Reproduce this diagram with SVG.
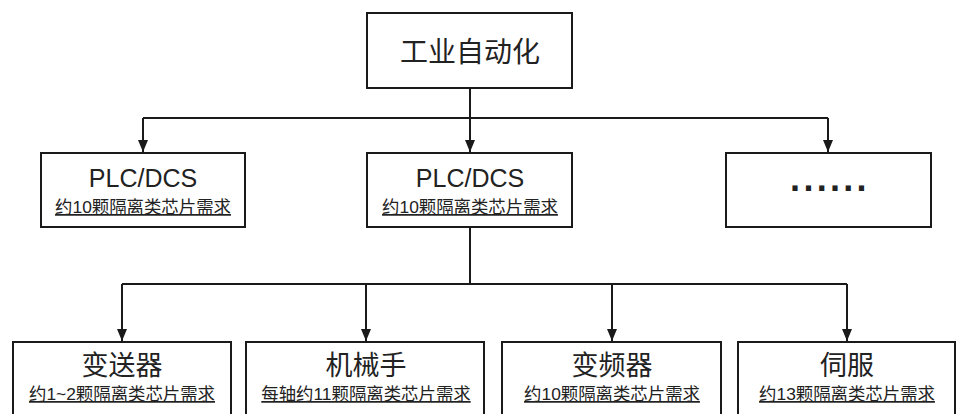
<svg xmlns="http://www.w3.org/2000/svg" width="962" height="414" viewBox="0 0 962 414">
<style>
.box{fill:#fff;stroke:#1a1a1a;stroke-width:2}
.conn{fill:none;stroke:#1a1a1a;stroke-width:2}
.t{font-family:"Liberation Sans","Noto Sans CJK SC",sans-serif;fill:#222;text-anchor:middle}
.title{font-size:27px}
.en{font-size:25px}
.sub{font-size:17.4px;text-decoration:underline;text-decoration-color:#666}
</style>
<defs>
<marker id="arr" markerUnits="userSpaceOnUse" markerWidth="12" markerHeight="12" viewBox="0 0 12 12" refX="12" refY="6" orient="auto">
<path d="M0,1 L12,6 L0,11 Z" fill="#1a1a1a"/>
</marker>
</defs>
<rect width="962" height="414" fill="#fff"/>
<g id="connectors">
<path class="conn" d="M470,88 V118 M143,118 H828"/>
<path class="conn" d="M143,118 V152" marker-end="url(#arr)"/>
<path class="conn" d="M470,118 V152" marker-end="url(#arr)"/>
<path class="conn" d="M828,118 V152" marker-end="url(#arr)"/>
<path class="conn" d="M470,227 V284 M122,284 H847"/>
<path class="conn" d="M122,284 V341" marker-end="url(#arr)"/>
<path class="conn" d="M366,284 V341" marker-end="url(#arr)"/>
<path class="conn" d="M612,284 V341" marker-end="url(#arr)"/>
<path class="conn" d="M847,284 V341" marker-end="url(#arr)"/>
</g>
<g id="root">
<rect class="box" x="367" y="13" width="205" height="75"/>
<text class="t title" x="470" y="62" style="font-size:28px">工业自动化</text>
</g>
<g id="plc1">
<rect class="box" x="41" y="153" width="204" height="74"/>
<text class="t en" x="143" y="187">PLC/DCS</text>
<text class="t sub" x="143" y="213">约10颗隔离类芯片需求</text>
</g>
<g id="plc2">
<rect class="box" x="367" y="153" width="205" height="74"/>
<text class="t en" x="470" y="187">PLC/DCS</text>
<text class="t sub" x="470" y="213">约10颗隔离类芯片需求</text>
</g>
<g id="more">
<rect class="box" x="726" y="153" width="205" height="74"/>
<text class="t" x="830" y="191" style="font-size:36px;font-weight:bold;letter-spacing:3.3px">......</text>
</g>
<g id="transmitter">
<rect class="box" x="13" y="342" width="218" height="80"/>
<text class="t title" x="122" y="375">变送器</text>
<text class="t sub" x="122" y="400">约1~2颗隔离类芯片需求</text>
</g>
<g id="robot">
<rect class="box" x="246" y="342" width="238" height="80"/>
<text class="t title" x="366" y="375">机械手</text>
<text class="t sub" x="366" y="400">每轴约11颗隔离类芯片需求</text>
</g>
<g id="inverter">
<rect class="box" x="502" y="342" width="219" height="80"/>
<text class="t title" x="612" y="375">变频器</text>
<text class="t sub" x="612" y="400">约10颗隔离类芯片需求</text>
</g>
<g id="servo">
<rect class="box" x="738" y="342" width="217" height="80"/>
<text class="t title" x="847" y="375">伺服</text>
<text class="t sub" x="847" y="400">约13颗隔离类芯片需求</text>
</g>
</svg>
